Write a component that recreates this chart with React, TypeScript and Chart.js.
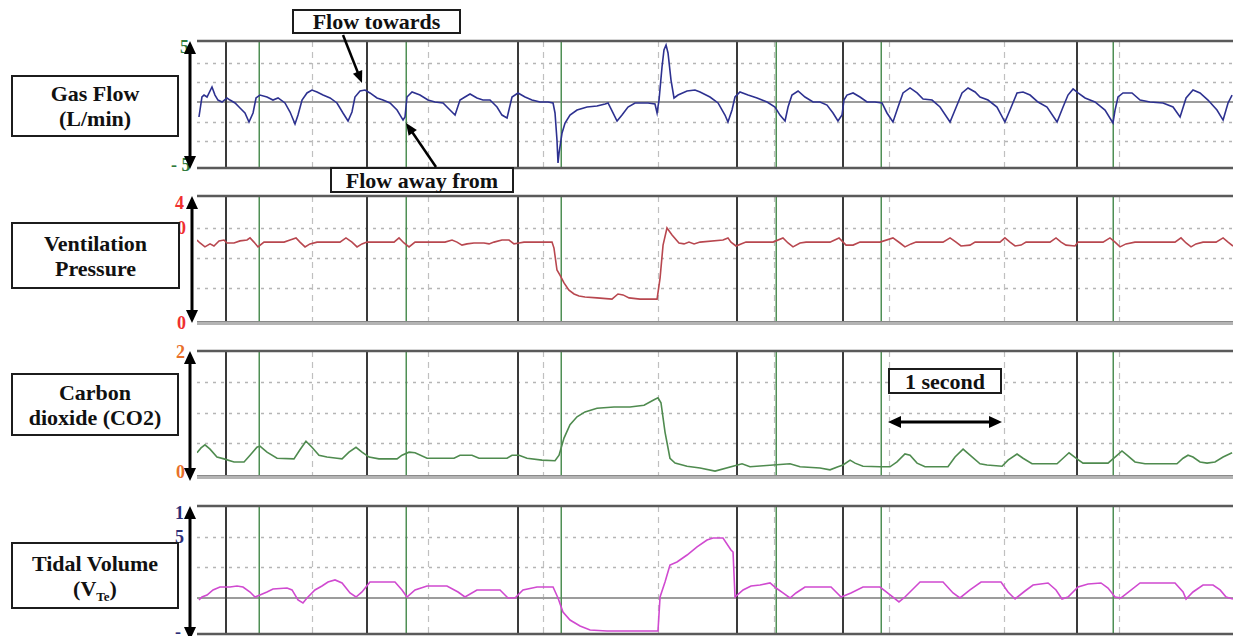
import React, { useEffect, useRef } from "react";
import { Chart, registerables } from "chart.js";
Chart.register(...registerables);

// time axis (seconds)
const timeMax = 8.985;
const secondLines = [1, 2, 3, 4, 5, 6, 7, 8];
const blackMarkers = [0.252, 1.474, 2.784, 4.683, 5.603, 7.632];
const greenMarkers = [0.538, 1.813, 3.157, 5.022, 5.932, 7.944];

// [time s, value]
const gasFlow: [number, number][] = [
  [0.017,-1.23],[0.043,0.41],[0.061,0.57],[0.087,0.41],[0.130,1.23],[0.156,0.57],[0.182,0.16],[0.217,0],[0.260,0.33],[0.286,0.16],
  [0.330,-0.08],[0.373,-0.49],[0.416,-0.90],[0.451,-1.64],[0.486,-0.90],[0.512,0.33],[0.546,0.57],[0.607,0.41],[0.659,0.16],[0.703,0.33],
  [0.763,-0.08],[0.807,-0.82],[0.850,-1.80],[0.876,-1.07],[0.911,0.16],[0.954,0.74],[0.997,0.98],[1.041,0.82],[1.093,0.57],[1.154,0.33],
  [1.214,-0.08],[1.266,-0.90],[1.310,-1.56],[1.344,-0.82],[1.370,0.41],[1.414,0.90],[1.457,0.98],[1.500,0.74],[1.561,0.33],[1.613,0.16],
  [1.674,-0.08],[1.735,-0.66],[1.787,-1.48],[1.804,-1.23],[1.821,0.41],[1.865,0.82],[1.934,0.57],[2.003,0.16],[2.064,0],[2.134,-0.08],
  [2.194,-0.66],[2.238,-1.07],[2.281,0.16],[2.324,0.41],[2.368,0.66],[2.428,0.33],[2.480,0.16],[2.541,0.16],[2.602,-0.41],[2.645,-1.07],
  [2.689,-1.31],[2.732,0.41],[2.784,0.74],[2.845,0.41],[2.905,0.16],[2.975,0],[3.044,0],[3.088,-0.08],[3.105,-0.90],[3.122,-3.11],
  [3.131,-5.00],[3.140,-4.18],[3.166,-2.54],[3.192,-1.72],[3.235,-1.07],[3.296,-0.66],[3.383,-0.41],[3.469,-0.33],[3.539,-0.16],[3.565,-0.08],
  [3.608,-0.90],[3.643,-1.56],[3.686,-1.07],[3.738,-0.41],[3.799,-0.08],[3.859,-0.08],[3.912,-0.08],[3.972,-0.16],[3.990,-0.90],[4.007,0.16],
  [4.033,2.87],[4.050,4.26],[4.068,4.67],[4.085,4.02],[4.111,1.80],[4.137,0.33],[4.172,0.57],[4.250,0.90],[4.319,0.98],[4.363,0.82],
  [4.449,0.41],[4.519,-0.08],[4.579,-1.07],[4.605,-1.64],[4.640,-0.66],[4.666,0.41],[4.709,0.82],[4.779,0.57],[4.857,0.33],[4.944,0],
  [5.013,-0.41],[5.056,-1.07],[5.100,-1.56],[5.126,-0.41],[5.160,0.57],[5.213,0.90],[5.273,0.41],[5.343,0],[5.403,0],[5.464,-0.25],
  [5.516,-0.90],[5.559,-1.56],[5.594,-1.07],[5.611,0.16],[5.637,0.57],[5.690,0.74],[5.750,0.41],[5.811,0],[5.880,0],[5.941,-0.08],
  [5.984,-0.90],[6.036,-1.64],[6.080,-0.41],[6.123,0.74],[6.184,1.15],[6.245,0.74],[6.297,0.25],[6.375,0.16],[6.444,-0.41],[6.531,-1.64],
  [6.574,-0.66],[6.635,0.74],[6.687,1.15],[6.748,0.82],[6.791,0.41],[6.860,0.16],[6.938,-0.41],[7.007,-1.64],[7.051,-0.66],[7.112,0.74],
  [7.164,0.82],[7.225,0.57],[7.294,0],[7.372,-0.41],[7.459,-1.64],[7.511,-0.41],[7.554,0.57],[7.598,1.07],[7.641,0.74],[7.702,0.33],
  [7.788,0],[7.875,-0.66],[7.944,-1.72],[7.962,-0.66],[7.988,0.41],[8.031,0.74],[8.109,0.74],[8.179,0.16],[8.265,0],[8.378,-0.08],
  [8.465,-0.41],[8.526,-1.23],[8.578,0.33],[8.638,0.98],[8.699,0.74],[8.768,0.16],[8.846,-0.66],[8.899,-1.48],[8.942,-0.08],[8.977,0.57],
];

const ventPressure: [number, number][] = [
  [0.000,26.0],[0.026,25.0],[0.069,23.7],[0.113,24.7],[0.147,24.0],[0.191,25.7],[0.234,26.0],[0.260,25.0],[0.321,25.0],[0.373,25.7],
  [0.434,26.0],[0.460,26.7],[0.494,25.3],[0.529,23.7],[0.581,25.3],[0.633,25.3],[0.755,25.3],[0.807,26.0],[0.859,26.7],[0.893,25.3],
  [0.937,23.7],[0.980,24.7],[1.041,25.3],[1.240,25.3],[1.292,26.7],[1.344,25.3],[1.388,23.7],[1.431,24.7],[1.474,25.3],[1.709,25.3],
  [1.752,26.7],[1.795,25.0],[1.839,23.7],[1.891,25.3],[2.151,25.3],[2.212,26.0],[2.255,25.3],[2.298,24.3],[2.342,24.7],[2.402,25.0],
  [2.489,25.0],[2.533,24.7],[2.576,25.3],[2.645,26.0],[2.706,26.0],[2.749,24.7],[2.793,25.0],[2.836,25.3],[3.079,25.3],[3.096,23.3],
  [3.122,16.0],[3.148,14.3],[3.183,11.7],[3.226,9.3],[3.270,8.0],[3.313,7.3],[3.365,7.0],[3.469,6.7],[3.599,6.3],[3.651,8.0],
  [3.695,7.7],[3.747,6.7],[3.842,6.3],[3.990,6.3],[4.016,13.3],[4.042,24.3],[4.076,30.0],[4.120,27.7],[4.180,25.0],[4.224,24.7],
  [4.267,25.3],[4.311,24.7],[4.363,25.3],[4.562,26.0],[4.605,26.7],[4.631,25.3],[4.675,24.0],[4.718,24.7],[4.761,25.3],[4.996,25.3],
  [5.082,26.7],[5.126,25.0],[5.169,23.7],[5.230,25.0],[5.282,25.3],[5.490,25.3],[5.568,26.7],[5.629,24.3],[5.690,24.3],[5.750,25.3],
  [5.924,25.3],[6.036,26.7],[6.097,25.0],[6.140,23.7],[6.193,24.7],[6.236,25.3],[6.470,25.3],[6.531,26.7],[6.583,25.3],[6.626,24.0],
  [6.704,24.3],[6.748,25.3],[6.964,25.3],[7.007,26.7],[7.051,25.3],[7.095,24.0],[7.147,24.3],[7.190,25.3],[7.398,25.3],[7.450,26.7],
  [7.494,25.3],[7.537,24.3],[7.615,24.0],[7.641,25.3],[7.858,25.3],[7.918,26.7],[7.962,25.3],[8.005,23.7],[8.057,24.7],[8.135,25.3],
  [8.482,25.3],[8.534,26.7],[8.578,25.0],[8.621,23.7],[8.664,24.7],[8.725,25.3],[8.838,25.3],[8.899,26.7],[8.942,25.3],[8.985,24.0],
];

const carbonDioxide: [number, number][] = [
  [0.000,0.34],[0.035,0.42],[0.069,0.47],[0.113,0.40],[0.173,0.27],[0.234,0.24],[0.321,0.19],[0.408,0.19],[0.460,0.30],[0.520,0.43],
  [0.546,0.45],[0.607,0.35],[0.694,0.25],[0.841,0.24],[0.893,0.39],[0.945,0.53],[0.997,0.43],[1.058,0.30],[1.127,0.27],[1.214,0.25],
  [1.258,0.24],[1.318,0.35],[1.379,0.43],[1.431,0.35],[1.492,0.27],[1.578,0.24],[1.735,0.24],[1.778,0.30],[1.839,0.35],[1.891,0.34],
  [1.995,0.25],[2.229,0.25],[2.281,0.30],[2.385,0.30],[2.446,0.25],[2.689,0.25],[2.732,0.30],[2.793,0.30],[2.862,0.25],[2.992,0.22],
  [3.105,0.21],[3.140,0.30],[3.183,0.58],[3.235,0.80],[3.296,0.93],[3.365,1.01],[3.469,1.07],[3.617,1.09],[3.755,1.09],[3.877,1.12],
  [3.964,1.21],[3.998,1.24],[4.024,1.16],[4.059,0.68],[4.102,0.25],[4.146,0.17],[4.250,0.12],[4.363,0.09],[4.493,0.04],[4.727,0.16],
  [4.796,0.11],[5.143,0.16],[5.230,0.11],[5.403,0.09],[5.490,0.06],[5.559,0.11],[5.603,0.14],[5.664,0.22],[5.707,0.17],[5.776,0.12],
  [5.924,0.11],[6.010,0.11],[6.071,0.19],[6.140,0.32],[6.184,0.30],[6.245,0.17],[6.314,0.11],[6.513,0.11],[6.574,0.27],[6.644,0.40],
  [6.704,0.30],[6.791,0.16],[6.852,0.14],[6.982,0.12],[7.034,0.22],[7.112,0.32],[7.164,0.25],[7.242,0.16],[7.459,0.16],[7.511,0.25],
  [7.563,0.34],[7.632,0.24],[7.684,0.17],[7.901,0.17],[7.962,0.27],[8.022,0.37],[8.066,0.30],[8.135,0.19],[8.222,0.16],[8.499,0.16],
  [8.552,0.25],[8.595,0.30],[8.638,0.27],[8.699,0.19],[8.760,0.17],[8.829,0.19],[8.899,0.27],[8.977,0.34],
];

const tidalVolume: [number, number][] = [
  [0.017,-0.33],[0.043,0.16],[0.087,0.49],[0.139,1.31],[0.199,1.79],[0.286,1.79],[0.347,1.96],[0.399,1.79],[0.460,0.98],[0.503,0.16],
  [0.546,0.49],[0.607,0.98],[0.659,1.47],[0.781,1.63],[0.824,1.31],[0.876,-0.33],[0.919,-0.82],[0.954,0],[1.023,1.31],[1.084,1.96],
  [1.136,2.61],[1.197,2.94],[1.258,2.45],[1.327,0.82],[1.379,0.16],[1.431,0.98],[1.500,2.61],[1.717,2.61],[1.778,1.31],[1.821,0.16],
  [1.891,1.31],[1.995,1.96],[2.168,1.96],[2.264,0.98],[2.324,0.16],[2.428,1.31],[2.628,1.31],[2.697,0],[2.758,0],[2.827,1.31],
  [2.949,1.79],[3.088,1.79],[3.131,0],[3.174,-2.28],[3.235,-3.59],[3.322,-4.57],[3.409,-5.22],[3.556,-5.38],[3.998,-5.38],[4.016,0.16],
  [4.059,2.61],[4.102,5.38],[4.163,5.87],[4.250,7.01],[4.337,8.32],[4.423,9.46],[4.475,9.79],[4.562,9.79],[4.631,7.83],[4.649,7.50],
  [4.666,0.16],[4.736,1.31],[4.805,1.96],[4.883,2.12],[4.970,2.45],[5.022,1.63],[5.082,0.82],[5.143,0],[5.195,0.82],[5.273,1.79],
  [5.499,1.79],[5.586,0.16],[5.672,0.82],[5.776,1.79],[5.924,1.79],[6.036,0.16],[6.088,-0.65],[6.140,0.16],[6.271,2.61],[6.470,2.61],
  [6.557,0.82],[6.617,0],[6.704,1.31],[6.800,2.61],[6.973,2.61],[7.034,0.98],[7.095,-0.16],[7.181,1.14],[7.251,2.12],[7.381,2.45],
  [7.450,1.31],[7.502,-0.16],[7.554,0.16],[7.641,1.79],[7.728,2.28],[7.840,2.45],[7.901,1.63],[7.962,0.16],[8.014,0],[8.179,2.45],
  [8.482,2.45],[8.552,0.98],[8.578,-0.16],[8.638,0.98],[8.725,2.12],[8.812,2.12],[8.873,1.31],[8.925,0.16],[8.985,-0.16],
];

const flowGrid = [3.2, 1.6, -1.6, -3.2];
const pressureGrid = [30, 20, 10];
const co2Grid = [1.5, 1.0, 0.5];
const tidalGrid = [10, 5];

type PanelProps = {
  top: number;
  height: number;
  series: [number, number][];
  color: string;
  yMin: number;
  yMax: number;
  dotted: number[];
  centre: number[];
  bottom: "dark" | "light";
};

function Panel({ top, height, series, color, yMin, yMax, dotted, centre, bottom }: PanelProps) {
  const ref = useRef<HTMLCanvasElement>(null);
  useEffect(() => {
    if (!ref.current) return;
    const gridPlugin = {
      id: "monitorGrid",
      beforeDatasetsDraw(chart: any) {
        const { ctx, chartArea: a, scales } = chart;
        const x = scales.x;
        const y = scales.y;
        ctx.save();
        const hline = (py: number) => {
          ctx.beginPath();
          ctx.moveTo(a.left, py);
          ctx.lineTo(a.right, py);
          ctx.stroke();
        };
        const vline = (px: number) => {
          ctx.beginPath();
          ctx.moveTo(px, a.top);
          ctx.lineTo(px, a.bottom);
          ctx.stroke();
        };
        // dotted horizontals
        ctx.setLineDash([3, 5]);
        ctx.strokeStyle = "#b5b5b5";
        ctx.lineWidth = 1.6;
        dotted.forEach((v) => hline(Math.round(y.getPixelForValue(v)) + 0.5));
        // dashed second lines
        ctx.setLineDash([6, 5]);
        ctx.strokeStyle = "#c0c0c0";
        ctx.lineWidth = 1.2;
        secondLines.forEach((t) => vline(Math.round(x.getPixelForValue(t)) + 0.5));
        ctx.setLineDash([]);
        // centre line
        ctx.strokeStyle = "#9c9c9c";
        ctx.lineWidth = 2;
        centre.forEach((v) => hline(Math.round(y.getPixelForValue(v))));
        // markers
        ctx.strokeStyle = "#3a3a3a";
        ctx.lineWidth = 2;
        blackMarkers.forEach((t) => vline(Math.round(x.getPixelForValue(t))));
        ctx.strokeStyle = "#4f8f55";
        ctx.lineWidth = 1.5;
        greenMarkers.forEach((t) => vline(Math.round(x.getPixelForValue(t)) + 0.25));
        // borders
        ctx.strokeStyle = "#5a5a5a";
        ctx.lineWidth = 2.5;
        hline(a.top);
        if (bottom === "dark") {
          ctx.strokeStyle = "#5a5a5a";
          ctx.lineWidth = 2.5;
          hline(a.bottom);
        } else {
          ctx.strokeStyle = "#b4b4b4";
          ctx.lineWidth = 4;
          hline(a.bottom);
          ctx.strokeStyle = "#8a8a8a";
          ctx.lineWidth = 1;
          hline(a.bottom - 1.5);
        }
        ctx.restore();
      },
    };
    const chart = new Chart(ref.current, {
      type: "line",
      data: {
        datasets: [
          {
            data: series.map(([t, v]) => ({ x: t, y: v })),
            borderColor: color,
            borderWidth: 1.6,
            pointRadius: 0,
            tension: 0,
            fill: false,
          },
        ],
      },
      options: {
        animation: false,
        responsive: false,
        maintainAspectRatio: false,
        events: [],
        layout: { padding: { top: 3, bottom: 3, left: 0, right: 0 } },
        scales: {
          x: { type: "linear", min: 0, max: timeMax, display: false },
          y: { type: "linear", min: yMin, max: yMax, display: false },
        },
        plugins: { legend: { display: false }, tooltip: { enabled: false } },
      },
      plugins: [gridPlugin],
    } as any);
    return () => chart.destroy();
  }, []);
  return (
    <canvas
      ref={ref}
      width={1036}
      height={height + 6}
      style={{ position: "absolute", left: 197, top: top - 3, width: 1036, height: height + 6 }}
    />
  );
}

const boxFont = '"Liberation Serif", "DejaVu Serif", serif';

function Box({ left, top, width, height, children }: any) {
  return (
    <div
      style={{
        position: "absolute",
        left,
        top,
        width,
        height,
        boxSizing: "border-box",
        border: "2px solid #1c1c1c",
        background: "#fff",
        fontFamily: boxFont,
        fontWeight: 700,
        fontSize: 22,
        lineHeight: "25px",
        color: "#111",
        textAlign: "center",
        display: "flex",
        flexDirection: "column",
        justifyContent: "center",
        zIndex: 3,
        whiteSpace: "nowrap",
      }}
    >
      {children}
    </div>
  );
}

function AxisLabel({ left, top, color, text }: any) {
  return (
    <div
      style={{
        position: "absolute",
        left,
        top,
        fontFamily: boxFont,
        fontWeight: 700,
        fontSize: 18,
        lineHeight: "18px",
        color,
        zIndex: 2,
        whiteSpace: "pre",
      }}
    >
      {text}
    </div>
  );
}

function head(x1: number, y1: number, x2: number, y2: number, len: number, half: number) {
  const dx = x2 - x1;
  const dy = y2 - y1;
  const d = Math.hypot(dx, dy);
  const ux = dx / d;
  const uy = dy / d;
  const bx = x2 - ux * len;
  const by = y2 - uy * len;
  return `${x2},${y2} ${bx - uy * half},${by + ux * half} ${bx + uy * half},${by - ux * half}`;
}

function Arrow({ x1, y1, x2, y2, both, w = 3, len = 13, half = 6 }: any) {
  const dx = x2 - x1;
  const dy = y2 - y1;
  const d = Math.hypot(dx, dy);
  const ux = dx / d;
  const uy = dy / d;
  const sx = both ? x1 + ux * (len - 2) : x1;
  const sy = both ? y1 + uy * (len - 2) : y1;
  const ex = x2 - ux * (len - 2);
  const ey = y2 - uy * (len - 2);
  return (
    <g>
      <line x1={sx} y1={sy} x2={ex} y2={ey} stroke="#000" strokeWidth={w} />
      <polygon points={head(x1, y1, x2, y2, len, half)} fill="#000" />
      {both && <polygon points={head(x2, y2, x1, y1, len, half)} fill="#000" />}
    </g>
  );
}

export default function App() {
  return (
    <div style={{ position: "absolute", left: 0, top: 0, width: 1233, height: 636, background: "#fff", overflow: "hidden" }}>
      <Panel top={41} height={127} series={gasFlow} color="#2d3190" yMin={-5.41} yMax={5.0} dotted={flowGrid} centre={[0]} bottom="dark" />
      <Panel top={196} height={127} series={ventPressure} color="#b8474f" yMin={-1.67} yMax={40.67} dotted={pressureGrid} centre={[]} bottom="light" />
      <Panel top={351} height={126} series={carbonDioxide} color="#4f8b4f" yMin={-0.057} yMax={2.008} dotted={co2Grid} centre={[]} bottom="light" />
      <Panel top={506} height={128} series={tidalVolume} color="#d04ad0" yMin={-5.87} yMax={15.0} dotted={tidalGrid} centre={[0]} bottom="dark" />

      <AxisLabel left={180} top={38} color="#2e7a3c" text="5" />
      <AxisLabel left={171} top={156} color="#2e7a3c" text="- 5" />
      <AxisLabel left={175} top={194} color="#f03030" text="4" />
      <AxisLabel left={177} top={219} color="#f03030" text="0" />
      <AxisLabel left={177} top={314} color="#f03030" text="0" />
      <AxisLabel left={176} top={343} color="#e8702a" text="2" />
      <AxisLabel left={176} top={463} color="#e8702a" text="0" />
      <AxisLabel left={175} top={504} color="#2c2e78" text="1" />
      <AxisLabel left={175} top={528} color="#2c2e78" text="5" />
      <AxisLabel left={175} top={623} color="#2c2e78" text="-" />

      <Box left={11} top={75} width={168} height={62}>
        <div>Gas Flow</div>
        <div>(L/min)</div>
      </Box>
      <Box left={11} top={222} width={169} height={67}>
        <div>Ventilation</div>
        <div>Pressure</div>
      </Box>
      <Box left={11} top={373} width={168} height={63}>
        <div>Carbon</div>
        <div>dioxide (CO2)</div>
      </Box>
      <Box left={11} top={542} width={168} height={67}>
        <div>Tidal Volume</div>
        <div>
          (V<sub style={{ fontSize: 13, lineHeight: 0, verticalAlign: "-5px" }}>Te</sub>)
        </div>
      </Box>
      <Box left={292} top={9} width={169} height={25}>
        <div>Flow towards</div>
      </Box>
      <Box left={330} top={167} width={184} height={26}>
        <div>Flow away from</div>
      </Box>
      <Box left={888} top={368} width={114} height={26}>
        <div>1 second</div>
      </Box>

      <svg width={1233} height={636} style={{ position: "absolute", left: 0, top: 0, zIndex: 4, pointerEvents: "none" }}>
        <Arrow x1={190} y1={41} x2={190} y2={169} both />
        <Arrow x1={192} y1={196} x2={192} y2={323} both />
        <Arrow x1={190} y1={351} x2={190} y2={481} both />
        <Arrow x1={190} y1={506} x2={190} y2={640} both />
        <Arrow x1={343} y1={35} x2={362} y2={83} w={2.5} len={12} half={5} />
        <Arrow x1={436} y1={167} x2={406} y2={123} w={2.5} len={12} half={5} />
        <Arrow x1={888} y1={422} x2={1002} y2={422} both w={3} len={13} half={6} />
      </svg>
    </div>
  );
}
